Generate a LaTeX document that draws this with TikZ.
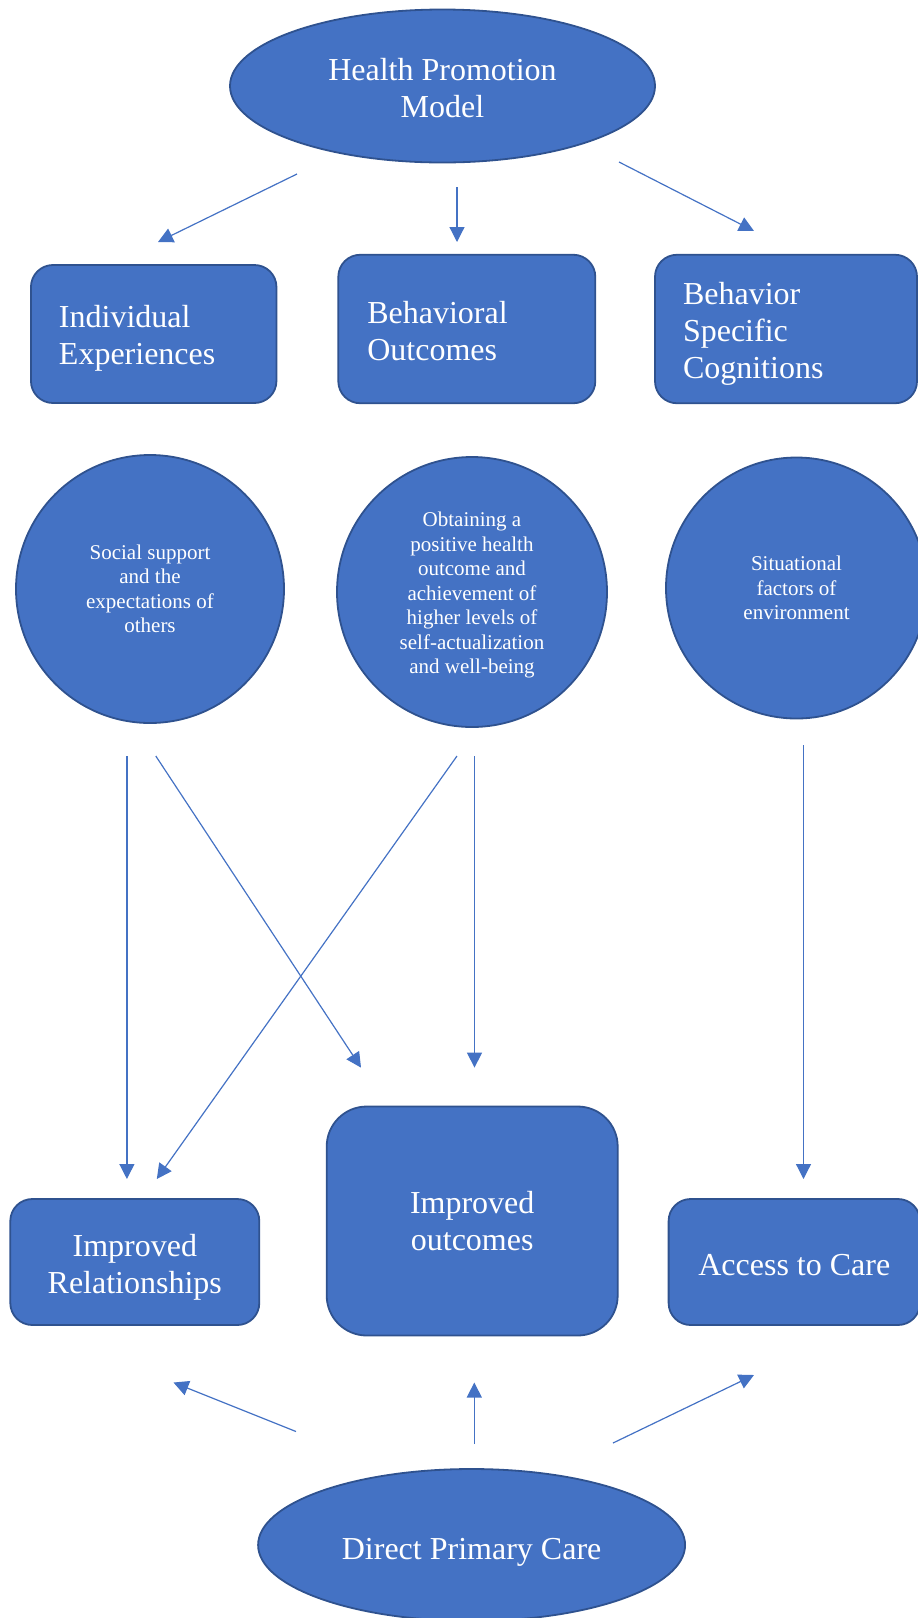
\documentclass[tikz,border=0pt]{standalone}
\usepackage{fontspec}
\setmainfont{Liberation Serif}
\usepackage{xcolor}
\usetikzlibrary{shapes.geometric,arrows.meta}
\definecolor{hpblue}{HTML}{4472C4}
\definecolor{hpedge}{HTML}{2F528F}

\begin{document}
\begin{tikzpicture}[x=1pt,y=-1pt,
 big/.style={font=\fontsize{32}{37}\selectfont},
 small/.style={font=\fontsize{21}{24.5}\selectfont},
 oval/.style={ellipse, fill=hpblue, draw=hpedge, line width=1.8pt, text=white, align=center, inner sep=0pt, big},
 card/.style={rectangle, rounded corners=22pt, fill=hpblue, draw=hpedge, line width=1.8pt, text=white, inner sep=0pt, big},
 bubble/.style={circle, fill=hpblue, draw=hpedge, line width=1.8pt, text=white, align=center, inner sep=0pt, small},
 flow/.style={hpblue, line width=1.2pt, -{Triangle[length=15pt,width=15pt]}}]

 \useasboundingbox (0,0) rectangle (918,1618);

 \node[oval, minimum width=425, minimum height=153] (hpm) at (442.5,86) {\rule{0pt}{26pt}Health Promotion\\Model};

 \node[card, minimum width=245.5, minimum height=138, text width=189.5, align=left] (ie) at (153.7,334) {\rule{0pt}{30pt}Individual\\Experiences};
 \node[card, minimum width=257, minimum height=148.5, text width=199, align=left] (bo) at (466.8,329) {\rule{0pt}{26pt}Behavioral\\Outcomes};
 \node[card, minimum width=262, minimum height=148.5, text width=206, align=left] (bsc) at (786,329) {\rule{0pt}{32pt}Behavior\\Specific\\Cognitions};

 \node[bubble, minimum size=268] (soc) at (150,589) {Social support\\and the\\expectations of\\others};
 \node[bubble, minimum size=270] (pos) at (472,592) {\rule{0pt}{21.5pt}Obtaining a\\positive health\\outcome and\\achievement of\\higher levels of\\self-actualization\\and well-being};
 \node[bubble, minimum size=261] (sit) at (796.5,588) {Situational\\factors of\\environment};

 \node[card, minimum width=249, minimum height=126, align=center] (rel) at (134.8,1262) {\rule{0pt}{32pt}Improved\\Relationships};
 \node[card, rounded corners=40pt, minimum width=291, minimum height=229, align=center] (out) at (472.2,1221) {Improved\\outcomes};
 \node[card, minimum width=251.4, minimum height=126, align=center] (acc) at (794.3,1262) {\rule{0pt}{28pt}Access to Care};

 \node[oval, minimum width=427, minimum height=152] (dpc) at (471.6,1545) {\rule{0pt}{36pt}Direct Primary Care};

 \coordinate (hpm-l) at (297,174);   \coordinate (ie-in) at (158,242);
 \coordinate (hpm-m) at (457,187);   \coordinate (bo-in) at (457,242);
 \coordinate (hpm-r) at (619,162);   \coordinate (bsc-in) at (754,231);
 \draw[flow] (hpm-l) -- (ie-in);
 \draw[flow] (hpm-m) -- (bo-in);
 \draw[flow] (hpm-r) -- (bsc-in);

 \coordinate (soc-a) at (126.9,756);  \coordinate (soc-b) at (155.8,756);
 \coordinate (pos-a) at (457,756);    \coordinate (pos-b) at (474.5,756);
 \coordinate (sit-a) at (803.5,745);
 \coordinate (rel-a) at (126.9,1179); \coordinate (rel-b) at (156.8,1179);
 \coordinate (out-a) at (361,1067.6); \coordinate (out-b) at (474.5,1067.6);
 \coordinate (acc-a) at (803.5,1179);
 \draw[flow] (soc-a) -- (rel-a);
 \draw[flow] (soc-b) -- (out-a);
 \draw[flow] (pos-a) -- (rel-b);
 \draw[flow] (pos-b) -- (out-b);
 \draw[flow] (sit-a) -- (acc-a);

 \coordinate (dpc-l) at (296,1431.5); \coordinate (rel-c) at (173.5,1382.5);
 \coordinate (dpc-m) at (474.3,1444); \coordinate (out-c) at (474.3,1382.5);
 \coordinate (dpc-r) at (613,1443);   \coordinate (acc-c) at (754,1375);
 \draw[flow] (dpc-l) -- (rel-c);
 \draw[flow] (dpc-m) -- (out-c);
 \draw[flow] (dpc-r) -- (acc-c);

\end{tikzpicture}
\end{document}
